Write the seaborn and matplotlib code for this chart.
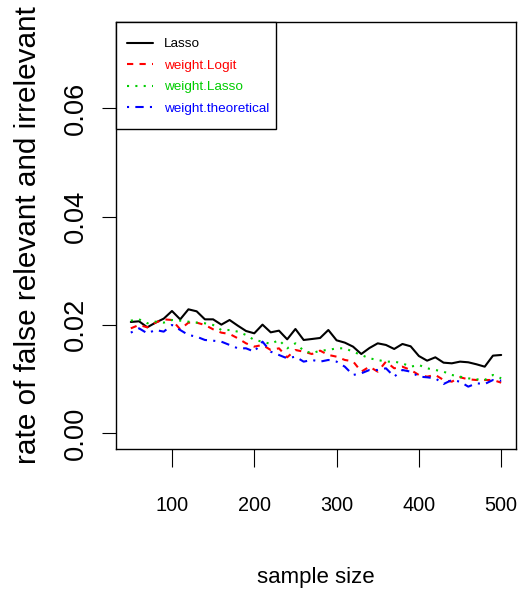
import matplotlib
matplotlib.use("Agg")
import matplotlib.pyplot as plt
from matplotlib import font_manager as fm
from matplotlib.patches import Rectangle
import seaborn as sns

# ---- data -------------------------------------------------------------
sample_size = list(range(50, 501, 10))

lasso = [0.02053, 0.02066, 0.01955, 0.02041, 0.02115, 0.02256, 0.02102, 0.02287,
         0.02250, 0.02102, 0.02102, 0.02004, 0.02090, 0.01985, 0.01887, 0.01844,
         0.02004, 0.01862, 0.01893, 0.01733, 0.01924, 0.01721, 0.01739, 0.01758,
         0.01905, 0.01715, 0.01672, 0.01598, 0.01462, 0.01573, 0.01659, 0.01629,
         0.01555, 0.01647, 0.01604, 0.01425, 0.01339, 0.01401, 0.01302, 0.01290,
         0.01321, 0.01309, 0.01272, 0.01228, 0.01432, 0.01444]

weight_logit = [0.01936, 0.01998, 0.01955, 0.02041, 0.02102, 0.02090, 0.01918, 0.02041,
                0.02041, 0.01998, 0.01918, 0.01856, 0.01832, 0.01752, 0.01659, 0.01598,
                0.01629, 0.01536, 0.01567, 0.01401, 0.01536, 0.01505, 0.01462, 0.01524,
                0.01444, 0.01413, 0.01352, 0.01327, 0.01136, 0.01228, 0.01136, 0.01321,
                0.01198, 0.01228, 0.01167, 0.01075, 0.01044, 0.01075, 0.00982, 0.00951,
                0.01032, 0.00995, 0.00982, 0.00982, 0.00982, 0.00933]

weight_lasso = [0.02078, 0.02102, 0.02029, 0.02059, 0.02041, 0.02090, 0.02078, 0.02059,
                0.02041, 0.02029, 0.01998, 0.01905, 0.01905, 0.01875, 0.01813, 0.01721,
                0.01690, 0.01647, 0.01721, 0.01567, 0.01659, 0.01524, 0.01475, 0.01524,
                0.01536, 0.01567, 0.01567, 0.01505, 0.01444, 0.01382, 0.01352, 0.01321,
                0.01321, 0.01290, 0.01228, 0.01259, 0.01198, 0.01167, 0.01136, 0.01075,
                0.01044, 0.01013, 0.00995, 0.00982, 0.01075, 0.01013]

weight_theoretical = [0.01856, 0.01936, 0.01844, 0.01905, 0.01875, 0.01998, 0.01905, 0.01813,
                      0.01782, 0.01721, 0.01708, 0.01690, 0.01629, 0.01567, 0.01567, 0.01505,
                      0.01690, 0.01505, 0.01444, 0.01382, 0.01413, 0.01321, 0.01352, 0.01321,
                      0.01352, 0.01321, 0.01228, 0.01075, 0.01105, 0.01167, 0.01167, 0.01198,
                      0.01044, 0.01167, 0.01136, 0.01044, 0.01032, 0.01013, 0.00908, 0.00982,
                      0.00951, 0.00859, 0.00921, 0.00908, 0.00982, 0.00970]

series_names = ["Lasso", "weight.Logit", "weight.Lasso", "weight.theoretical"]
series_values = [lasso, weight_logit, weight_lasso, weight_theoretical]

x_ticks = [100, 200, 300, 400, 500]
y_ticks = [0.00, 0.02, 0.04, 0.06]
y_tick_labels = ["0.00", "0.02", "0.04", "0.06"]

# ---- styling ----------------------------------------------------------
colors = ["#000000", "#FF0000", "#00CD00", "#0000FF"]
linestyles = ["-", (0, (3, 3)), (0, (1, 3)), (0, (1, 3, 4, 3))]

sns.set_style("white")


def have_font(name):
    try:
        fm.findfont(fm.FontProperties(family=name), fallback_to_default=False)
        return True
    except Exception:
        return False


REGULAR = "Liberation Sans"
if have_font("Liberation Sans Narrow"):
    NARROW = "Liberation Sans Narrow"
    xtick_size, xlabel_size, legend_size = 17.4, 19.5, 11.9
else:
    NARROW = REGULAR
    xtick_size, xlabel_size, legend_size = 14.3, 16.0, 9.7

plt.rcParams["font.family"] = [REGULAR, "DejaVu Sans"]
plt.rcParams["text.color"] = "black"
plt.rcParams["axes.labelcolor"] = "black"
plt.rcParams["xtick.color"] = "black"
plt.rcParams["ytick.color"] = "black"

W, H = 523, 594
fig = plt.figure(figsize=(W / 100, H / 100), dpi=100)
left, right, top, bottom = 116, 516, 22, 449
ax_w, ax_h = right - left, bottom - top
ax = fig.add_axes([left / W, (H - bottom) / H, ax_w / W, ax_h / H])

for name, vals, c, ls in zip(series_names, series_values, colors, linestyles):
    sns.lineplot(x=sample_size, y=vals, ax=ax, color=c, linestyle=ls,
                 linewidth=1.5, label=name, errorbar=None)

# R-style axis ranges: 4% padding on each side
xmin, xmax = 50, 500
ymin, ymax = 0.0, 0.073
xpad = (xmax - xmin) * 0.04
ypad = (ymax - ymin) * 0.04
ax.set_xlim(xmin - xpad, xmax + xpad)
ax.set_ylim(ymin - ypad, ymax + ypad)

ax.set_xticks(x_ticks)
ax.set_xticklabels([str(v) for v in x_ticks])
ax.set_yticks(y_ticks)
ax.set_yticklabels(y_tick_labels)

for sp in ax.spines.values():
    sp.set_visible(True)
    sp.set_color("black")
    sp.set_linewidth(1.0)

ax.tick_params(axis="x", direction="out", length=13, width=0.8, colors="black",
               pad=21, labelsize=xtick_size, bottom=True)
ax.tick_params(axis="y", direction="out", length=10, width=0.8, colors="black",
               pad=9.4, labelsize=19.6, left=True)
for lab in ax.get_xticklabels():
    lab.set_fontfamily([NARROW, "DejaVu Sans"])
for lab in ax.get_yticklabels():
    lab.set_rotation(90)
    lab.set_verticalalignment("center")
    lab.set_horizontalalignment("right")

ax.set_xlabel("sample size", fontsize=xlabel_size, family=[NARROW, "DejaVu Sans"],
              color="black")
ax.xaxis.set_label_coords(0.5, (bottom - 577) / ax_h)
ax.xaxis.label.set_verticalalignment("center")

ax.set_ylabel("rate of false relevant and irrelevant", fontsize=21.4, color="black")
ax.yaxis.set_label_coords((28 - left) / ax_w, 0.5)
ax.yaxis.label.set_verticalalignment("center")
ax.yaxis.label.set_horizontalalignment("center")

# legend box in the top-left corner of the plot region
box_right, box_bottom = 276, 129
ax.add_patch(Rectangle((0, (bottom - box_bottom) / ax_h),
                       (box_right - left) / ax_w, (box_bottom - top) / ax_h,
                       transform=ax.transAxes, facecolor="white", edgecolor="black",
                       linewidth=1.0, zorder=4, clip_on=False))
leg = ax.legend(loc="upper left", bbox_to_anchor=(0, (bottom - 27.2) / ax_h),
                borderaxespad=0, frameon=False,
                handlelength=1.93, handletextpad=0.8, borderpad=0.8,
                labelspacing=0.67, labelcolor="linecolor",
                prop={"family": [NARROW, "DejaVu Sans"], "size": legend_size})
leg.set_zorder(5)

fig.savefig("out.png", dpi=100)
